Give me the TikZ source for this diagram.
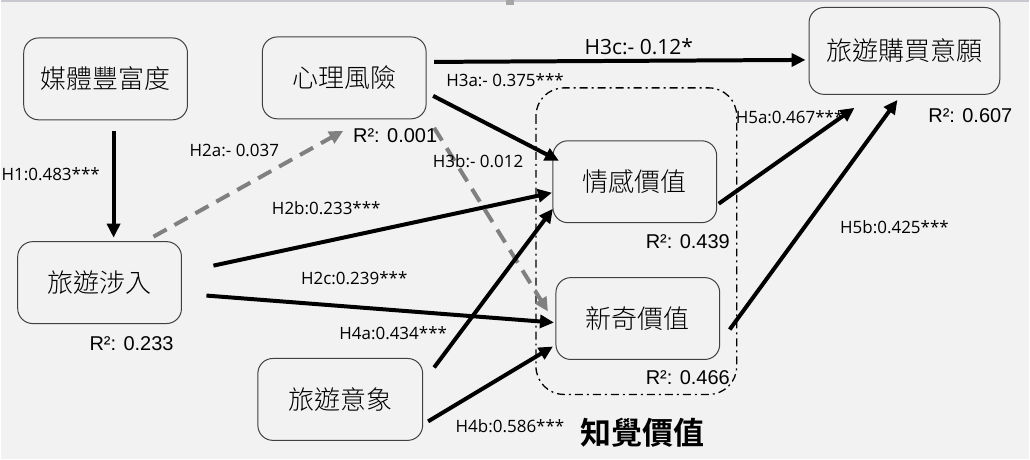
\documentclass[tikz,border=0pt]{standalone}
\usepackage{fontspec}
\setmainfont{Open Sans}
\newfontfamily\cjk{Noto Sans CJK TC}[UprightFont={* Light}, BoldFont={* Bold}]
\newfontfamily\cjkbold{Noto Sans CJK TC Bold}
\newfontfamily\rfont{Liberation Sans}
\usepackage{xcolor}
\usetikzlibrary{arrows.meta,positioning,backgrounds}

\definecolor{bgcol}{HTML}{F2F2F2}
\definecolor{boxline}{HTML}{404040}
\definecolor{dashcol}{HTML}{808080}
\definecolor{topline}{HTML}{C8C8D0}

\begin{document}
\begin{tikzpicture}[
        x=1pt, y=-1pt,
        construct/.style={rectangle, rounded corners=15pt, draw=boxline, line width=1pt, minimum width=164pt, minimum height=82pt, font=\cjk\fontsize{26}{30}\selectfont},
        path/.style={font=\fontsize{17}{20}\selectfont},
        rsq/.style={font=\rfont\fontsize{20}{24}\selectfont},
        arrow/.style={-{Triangle[length=14pt,width=13pt]}, line width=4pt},
        nsarrow/.style={arrow, draw=dashcol, dash pattern=on 15pt off 9pt}
    ]

    % Background and frame
    \fill[bgcol] (0,0) rectangle (1030,460);
    \draw[topline, line width=1.5pt] (0,1) -- (1030,1);
    \fill[gray!70] (506,0) rectangle (514,5);
    \useasboundingbox (0,0) rectangle (1030,460);

    % Perceived value group
    \draw[line width=1.3pt, dash pattern=on 8pt off 4pt on 2pt off 4pt, rounded corners=28pt] (536,88) rectangle (737,395);
    \node[font=\cjkbold\fontsize{31}{34}\selectfont] (pv) at (643,433) {知覺價值};

    % Constructs
    \node[construct] (media) at (105,79) {媒體豐富度};
    \node[construct] (risk) at (344,78) {心理風險};
    \node[construct, minimum width=191pt, minimum height=87pt] (intent) at (905,51) {旅遊購買意願};
    \node[construct] (emo) at (635,182) {情感價值};
    \node[construct] (nov) at (638,319) {新奇價值};
    \node[construct] (inv) at (99,283) {旅遊涉入};
    \node[construct, minimum width=165pt] (image) at (340,400) {旅遊意象};

    % Anchor points of the paths
    \coordinate (h1s) at (113,131);  \coordinate (h1e) at (113,238);
    \coordinate (h2as) at (153,237); \coordinate (h2ae) at (343,131);
    \coordinate (h2bs) at (213,266); \coordinate (h2be) at (552,193);
    \coordinate (h2cs) at (206,296); \coordinate (h2ce) at (554,323);
    \coordinate (h3as) at (433,96);  \coordinate (h3ae) at (559,161);
    \coordinate (h3bs) at (434,128); \coordinate (h3be) at (548,312);
    \coordinate (h3cs) at (434,62);  \coordinate (h3ce) at (806,60);
    \coordinate (h4as) at (434,368); \coordinate (h4ae) at (553,209);
    \coordinate (h4bs) at (428,422); \coordinate (h4be) at (553,347);
    \coordinate (h5as) at (719,204); \coordinate (h5ae) at (855,108);
    \coordinate (h5bs) at (730,330); \coordinate (h5be) at (898,100);

    % Paths
    \draw[arrow] (h1s) -- (h1e);
    \draw[nsarrow] (h2as) -- (h2ae);
    \draw[arrow] (h2bs) -- (h2be);
    \draw[arrow] (h2cs) -- (h2ce);
    \draw[arrow] (h3as) -- (h3ae);
    \draw[nsarrow] (h3bs) -- (h3be);
    \draw[arrow] (h3cs) -- (h3ce);
    \draw[arrow] (h4as) -- (h4ae);
    \draw[arrow] (h4bs) -- (h4be);
    \draw[arrow] (h5as) -- (h5ae);
    \draw[arrow] (h5bs) -- (h5be);

    % Path coefficients
    \node[path] (l1) at (50,174) {H1:0.483***};
    \node[path] (l2a) at (234,151) {H2a:- 0.037};
    \node[path] (l2b) at (326,208) {H2b:0.233***};
    \node[path] (l2c) at (354,279) {H2c:0.239***};
    \node[path] (l3a) at (505,80) {H3a:- 0.375***};
    \node[path] (l3b) at (478,161) {H3b:- 0.012};
    \node[path, font=\fontsize{21}{24}\selectfont] (l3c) at (639,47) {H3c:- 0.12*};
    \node[path] (l4a) at (393,334) {H4a:0.434***};
    \node[path] (l4b) at (510,427) {H4b:0.586***};
    \node[path] (l5a) at (790,117) {H5a:0.467***};
    \node[path] (l5b) at (895,228) {H5b:0.425***};

    % R squared
    \node[rsq] (r1) at (395,136) {R²: 0.001};
    \node[rsq] (r2) at (131,344) {R²: 0.233};
    \node[rsq] (r3) at (688,242) {R²: 0.439};
    \node[rsq] (r4) at (688,378) {R²: 0.466};
    \node[rsq] (r5) at (971,116) {R²: 0.607};

\end{tikzpicture}
\end{document}
